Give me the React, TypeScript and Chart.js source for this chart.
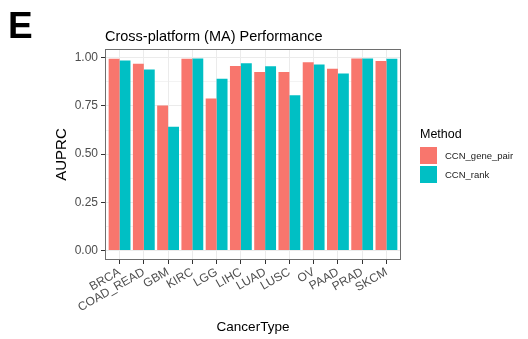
import React, { useEffect, useRef } from "react";
import { Chart, registerables } from "chart.js";

Chart.register(...registerables);

// Cancer types on the x axis
const cancerTypes = [
  "BRCA", "COAD_READ", "GBM", "KIRC", "LGG", "LIHC",
  "LUAD", "LUSC", "OV", "PAAD", "PRAD", "SKCM",
];

// AUPRC per method
const ccnGenePair = [0.995, 0.969, 0.752, 0.995, 0.789, 0.958, 0.927, 0.927, 0.977, 0.943, 0.996, 0.984];
const ccnRank = [0.986, 0.939, 0.642, 0.996, 0.891, 0.972, 0.956, 0.806, 0.965, 0.919, 0.996, 0.995];

const methodNames = ["CCN_gene_pair", "CCN_rank"];
const methodColors = ["#F8766D", "#00BFC4"];

// Labelled y ticks; minor grid lines sit halfway between them
const yMajorTicks = [0, 0.25, 0.5, 0.75, 1];
const yMinorTicks = [0.125, 0.375, 0.625, 0.875];

const FONT = '"Liberation Sans", Arial, sans-serif';

const decorations = {
  id: "decorations",
  afterDraw(chart: any) {
    const { ctx, chartArea } = chart;
    ctx.save();
    // panel border
    ctx.strokeStyle = "#6E6E6E";
    ctx.lineWidth = 1;
    ctx.strokeRect(
      Math.round(chartArea.left) + 0.5,
      Math.round(chartArea.top) + 0.5,
      Math.round(chartArea.right - chartArea.left) - 1,
      Math.round(chartArea.bottom - chartArea.top) - 1
    );

    // panel letter
    ctx.fillStyle = "#000";
    ctx.textBaseline = "alphabetic";
    ctx.textAlign = "left";
    ctx.font = `bold 37px ${FONT}`;
    ctx.fillText("E", 8, 38);

    // plot title
    ctx.font = `14.5px ${FONT}`;
    ctx.fillText("Cross-platform (MA) Performance", chartArea.left, 40.5);

    // legend
    ctx.font = `12.5px ${FONT}`;
    ctx.fillText("Method", 420, 138);
    ctx.font = `9.5px ${FONT}`;
    ctx.textBaseline = "middle";
    methodNames.forEach((name, i) => {
      const y = 147 + i * 19;
      ctx.fillStyle = methodColors[i];
      ctx.fillRect(420, y, 17, 17);
      ctx.fillStyle = "#1A1A1A";
      ctx.fillText(name, 445, y + 9);
    });
    ctx.restore();
  },
};

export default function App() {
  const canvasRef = useRef<HTMLCanvasElement>(null);

  useEffect(() => {
    const canvas = canvasRef.current;
    if (!canvas) return;

    const datasets = [ccnGenePair, ccnRank].map((values, s) => ({
      label: methodNames[s],
      data: cancerTypes.map((_, i) => ({ x: i + 1, y: values[i] })),
      backgroundColor: methodColors[s],
      borderWidth: 0,
      categoryPercentage: 0.9,
      barPercentage: 1,
    }));

    const isMajor = (v: number) => yMajorTicks.some((t) => Math.abs(t - v) < 1e-9);

    const chart = new Chart(canvas, {
      type: "bar",
      data: { datasets },
      plugins: [decorations],
      options: {
        animation: false,
        responsive: false,
        devicePixelRatio: 1,
        layout: { padding: { top: 49, right: 127, left: 0, bottom: 0 } },
        plugins: {
          legend: { display: false },
          tooltip: { enabled: false },
          title: { display: false },
        },
        scales: {
          x: {
            type: "linear",
            min: 0.4,
            max: 12.6,
            offset: false,
            afterBuildTicks: (scale: any) => {
              scale.ticks = cancerTypes.map((_, i) => ({ value: i + 1 }));
            },
            afterFit: (scale: any) => {
              scale.height = 79;
            },
            ticks: {
              autoSkip: false,
              minRotation: 30,
              maxRotation: 30,
              padding: 1,
              color: "#4D4D4D",
              font: { family: FONT, size: 12 },
              callback: (v: any) => cancerTypes[Math.round(v) - 1] ?? "",
            },
            grid: {
              offset: false,
              color: "#EBEBEB",
              lineWidth: 1,
              drawTicks: true,
              tickLength: 4,
              tickColor: "#333333",
            },
            border: { display: false },
            title: {
              display: true,
              text: "CancerType",
              color: "#000",
              font: { family: FONT, size: 13.5 },
              padding: { top: 0, bottom: 4 },
            },
          },
          y: {
            type: "linear",
            min: -0.0498,
            max: 1.0458,
            afterBuildTicks: (scale: any) => {
              scale.ticks = [...yMajorTicks, ...yMinorTicks]
                .sort((a, b) => a - b)
                .map((value) => ({ value }));
            },
            afterFit: (scale: any) => {
              scale.width = 105;
            },
            ticks: {
              autoSkip: false,
              padding: 3,
              color: "#4D4D4D",
              font: { family: FONT, size: 12 },
              callback: (v: any) => (isMajor(Number(v)) ? Number(v).toFixed(2) : ""),
            },
            grid: {
              color: "#EBEBEB",
              lineWidth: (ctx: any) => (isMajor(ctx.tick?.value) ? 1 : 0.6),
              drawTicks: true,
              tickLength: 4,
              tickColor: (ctx: any) => (isMajor(ctx.tick?.value) ? "#333333" : "rgba(0,0,0,0)"),
            },
            border: { display: false },
            title: {
              display: true,
              text: "AUPRC",
              color: "#000",
              font: { family: FONT, size: 15 },
              padding: { top: 53, bottom: 0 },
            },
          },
        },
      },
    });

    return () => chart.destroy();
  }, []);

  return (
    <div style={{ position: "absolute", left: 0, top: 0, width: 528, height: 339, background: "#fff" }}>
      <canvas ref={canvasRef} width={528} height={339} style={{ display: "block" }} />
    </div>
  );
}
